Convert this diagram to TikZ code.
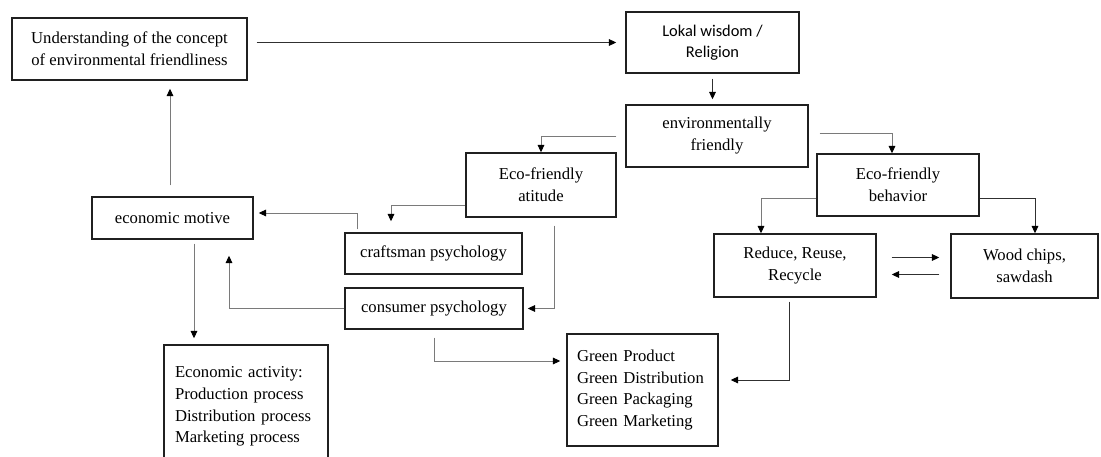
\documentclass[tikz,border=0pt]{standalone}
\usepackage{fontspec}
\setmainfont{Liberation Serif}
\newfontfamily\calibrifont{Carlito}
\usetikzlibrary{arrows.meta,calc}
\definecolor{boxc}{HTML}{202020}
\definecolor{lg}{HTML}{7A7A7A}
\definecolor{dk}{HTML}{303030}
\begin{document}
\begin{tikzpicture}[x=0.75pt,y=-0.75pt,
  box/.style={draw=boxc,line width=1.1pt,align=center,inner sep=0pt,font=\fontsize{12.5}{16.5}\selectfont},
  lbox/.style={draw=boxc,line width=1.1pt,align=left,inner ysep=0pt,font=\fontsize{12.5}{16.2}\selectfont},
  arrg/.style={line width=0.7pt,draw=lg,-{Triangle[length=5.5pt,width=5pt,color=black]}},
  arrk/.style={line width=0.7pt,draw=dk,-{Triangle[length=5.5pt,width=5pt,color=black]}}]
\clip (0,0) rectangle (1101,457);
\fill[white] (0,0) rectangle (1101,457);
% nodes
\node[box,minimum width=176.25pt,minimum height=46.5pt] (und) at (129.5,49) {Understanding of the concept\\of environmental friendliness};
\node[box,minimum width=129.75pt,minimum height=45.75pt,font=\calibrifont\fontsize{12.3}{16}\selectfont] (lok) at (712.5,42.5) {Lokal wisdom /\\Religion};
\node[box,minimum width=136.5pt,minimum height=46.5pt] (env) at (717,136) {environmentally\\friendly};
\node[box,minimum width=112.5pt,minimum height=48pt] (att) at (541,185) {Eco-friendly\\atitude};
\node[box,minimum width=121.5pt,minimum height=46.5pt] (beh) at (898,185) {Eco-friendly\\behavior};
\node[box,minimum width=120.75pt,minimum height=31.5pt] (mot) at (172.5,218) {economic motive};
\node[box,minimum width=132.75pt,minimum height=30.75pt] (cra) at (433.5,253.5) {craftsman psychology};
\node[box,minimum width=133.5pt,minimum height=30.75pt] (con) at (434,308.5) {consumer psychology};
\node[box,minimum width=121.5pt,minimum height=47.25pt] (red) at (795,265.5) {Reduce, Reuse,\\Recycle};
\node[box,minimum width=110.25pt,minimum height=48pt] (woo) at (1024.5,266) {Wood chips,\\sawdash};
\node[lbox,text width=106.5pt,inner xsep=8.25pt,minimum height=92.25pt] (act) at (246,406.5) {Economic activity:\\Production process\\Distribution process\\Marketing process};
\node[lbox,text width=98.25pt,inner xsep=7.5pt,minimum height=84pt] (gre) at (642.5,390) {Green Product\\Green Distribution\\Green Packaging\\Green Marketing};
% connectors
\draw[arrk,shorten <=6.75pt,shorten >=6.75pt] (und.east |- lok.west) -- (lok.west);
\draw[arrk,shorten <=3.75pt,shorten >=3.75pt] (lok.south) -- (lok.south |- env.north);
\draw[arrg] ($(env.west)+(-9,0)$) -| (att.north);
\draw[arrg] ($(env.east)+(11,-3)$) -| ($(beh.north)+(-6,0)$);
\draw[arrg] ($(att.west)+(0,20)$) -| ($(cra.north)+(-42.5,-11)$);
\draw[arrg] ($(cra.north west)+(13,-3)$) |- ($(mot.east)+(5,-5)$);
\draw[arrg] ($(att.south)+(13,8)$) |- ($(con.east)+(4,0)$);
\draw[arrg] (con.west) -| ($(mot.south)+(56.5,16)$);
\draw[arrg] ($(mot.north)+(-2.5,-11)$) -- ($(und.south)+(40.5,8)$);
\coordinate (m1) at ($(mot.south)+(21.5,4)$);
\draw[arrg,shorten >=4.5pt] (m1) -- (m1 |- act.north);
\draw[arrg] ($(con.south)+(0,8)$) |- ($(gre.west)+(-6,-29)$);
\draw[arrk] ($(red.south)+(-6,4)$) |- ($(gre.east)+(12,-10)$);
\draw[arrg] ($(beh.west)+(0,13)$) -| ($(red.north)+(-34,0)$);
\draw[arrk] ($(beh.east)+(0,13)$) -| ($(woo.north)+(10.5,0)$);
\draw[arrk] ($(red.east)+(15,-8)$) -- ($(woo.west)+(-11,-8.5)$);
\draw[arrk] ($(woo.west)+(-11,8.5)$) -- ($(red.east)+(15,9)$);
\end{tikzpicture}
\end{document}
